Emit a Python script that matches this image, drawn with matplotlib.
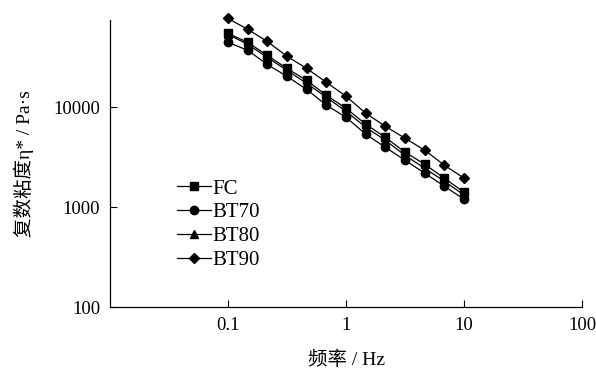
import numpy as np
import matplotlib.pyplot as plt

plt.rcParams['font.family'] = ['Liberation Serif', 'Noto Sans CJK SC', 'DejaVu Sans']

# frequency (Hz), 6 points per decade
freq = [0.1, 0.147, 0.215, 0.316, 0.464, 0.681, 1.0, 1.47, 2.15, 3.16, 4.64, 6.81, 10.0]

# complex viscosity (Pa·s)
fc = [55000, 44700, 33100, 24500, 18600, 13200, 9770, 6760, 5010, 3550, 2690, 1950, 1410]
bt70 = [44700, 37200, 26900, 20400, 15100, 10500, 7940, 5370, 3980, 2950, 2190, 1620, 1200]
bt80 = [53700, 42700, 31600, 23400, 17400, 12600, 9120, 6310, 4680, 3310, 2450, 1820, 1320]
bt90 = [77600, 60300, 45700, 32400, 24500, 17800, 12900, 8710, 6460, 4900, 3720, 2630, 1950]

series = [('FC', fc, 's'), ('BT70', bt70, 'o'), ('BT80', bt80, '^'), ('BT90', bt90, 'D')]

fig = plt.figure(figsize=(5.96, 3.69), dpi=100)
ax = fig.add_axes([0.1846, 0.168, 0.792, 0.778])

for name, vals, mk in series:
    ms = 5.5 if mk == 'D' else 6
    ax.plot(freq, vals, color='black', lw=0.9, marker=mk, ms=ms,
            label=name, clip_on=False)

ax.set_xscale('log')
ax.set_yscale('log')
ax.set_xlim(0.01, 100)
ax.set_ylim(100, 75000)

ax.set_xticks([0.1, 1, 10, 100])
ax.set_xticklabels(['0.1', '1', '10', '100'])
ax.set_yticks([100, 1000, 10000])
ax.set_yticklabels(['100', '1000', '10000'])
ax.minorticks_off()
ax.tick_params(direction='in', length=5, width=0.8, labelsize=13.5, pad=7)

for s in ['top', 'right']:
    ax.spines[s].set_visible(False)
for s in ['left', 'bottom']:
    ax.spines[s].set_linewidth(0.9)

ax.set_xlabel('频率 / Hz', fontsize=14, labelpad=12)
ax.set_ylabel('复数粘度η* / Pa·s', fontsize=14, labelpad=14)

ax.legend(loc='upper left', bbox_to_anchor=(0.125, 0.475), frameon=False,
          fontsize=15, handlelength=1.6, handletextpad=0.1, labelspacing=0.2,
          borderaxespad=0)

fig.savefig('out.png', dpi=100)
